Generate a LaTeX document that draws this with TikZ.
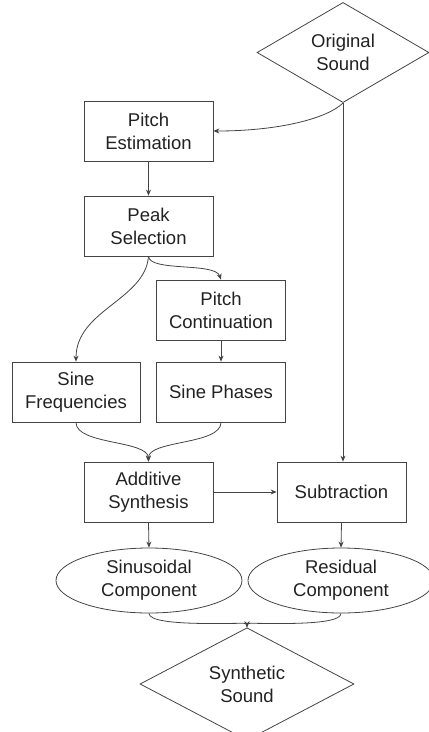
\documentclass[tikz,border=0pt]{standalone}
\usepackage{fontspec}
\setmainfont{Liberation Sans}
\usetikzlibrary{shapes.geometric,arrows.meta}
\definecolor{ln}{HTML}{444444}
\definecolor{tx}{HTML}{222222}
\begin{document}
\begin{tikzpicture}[x=1pt,y=-1pt,
  every node/.style={font=\fontsize{18.5}{22.8}\selectfont, text=tx, align=center, inner sep=0pt},
  boxn/.style={draw=ln, line width=0.8pt, rectangle, minimum width=129pt, minimum height=60pt},
  dia/.style={draw=ln, line width=0.8pt, diamond, minimum width=172pt, minimum height=93pt},
  ell/.style={draw=ln, line width=0.8pt, ellipse, minimum width=186pt, minimum height=65pt},
  con/.style={draw=ln, line width=0.8pt, -{Stealth[length=6pt,width=5pt]}}]
\useasboundingbox (0,0) rectangle (429,732);
\node[dia] (os) at (343,52.5) {Original\\Sound};
\node[boxn] (pe) at (148.5,131) {Pitch\\Estimation};
\node[boxn] (ps) at (148.5,226) {Peak\\Selection};
\node[boxn] (pc) at (221,310) {Pitch\\Continuation};
\node[boxn, minimum width=128pt] (sf) at (76,392) {Sine\\Frequencies};
\node[boxn] (sp) at (221,392) {Sine Phases};
\node[boxn] (as) at (148.5,492) {Additive\\Synthesis};
\node[boxn] (su) at (341.5,492) {Subtraction};
\node[ell] (sc) at (149,580.5) {Sinusoidal\\Component};
\node[ell] (rc) at (341,580.5) {Residual\\Component};
\node[dia, minimum width=214pt, minimum height=95pt] (ss) at (247,684) {Synthetic\\Sound};
\draw[con] (os.south) .. controls (328,118) and (280,131) .. (pe.east);
\draw[con] (os.south) -- (su.north -| os.south);
\draw[con] (pe.south) -- (ps.north);
\draw[con] (ps.south) .. controls (150,272) and (215,262) .. (pc.north);
\draw[con] (ps.south) .. controls (145,300) and (76,310) .. (sf.north);
\draw[con] (pc.south) -- (sp.north);
\draw[con] (sf.south) .. controls (76,445) and (148,440) .. (as.north);
\draw[con] (sp.south) .. controls (221,445) and (148,440) .. (as.north);
\draw[con] (as.east) -- (su.west);
\draw[con] (as.south) -- (sc.north);
\draw[con] (su.south) -- (rc.north);
\draw[con] (sc.south) .. controls (149,628) and (247,622) .. (ss.north);
\draw[con] (rc.south) .. controls (341,628) and (247,622) .. (ss.north);
\end{tikzpicture}
\end{document}
